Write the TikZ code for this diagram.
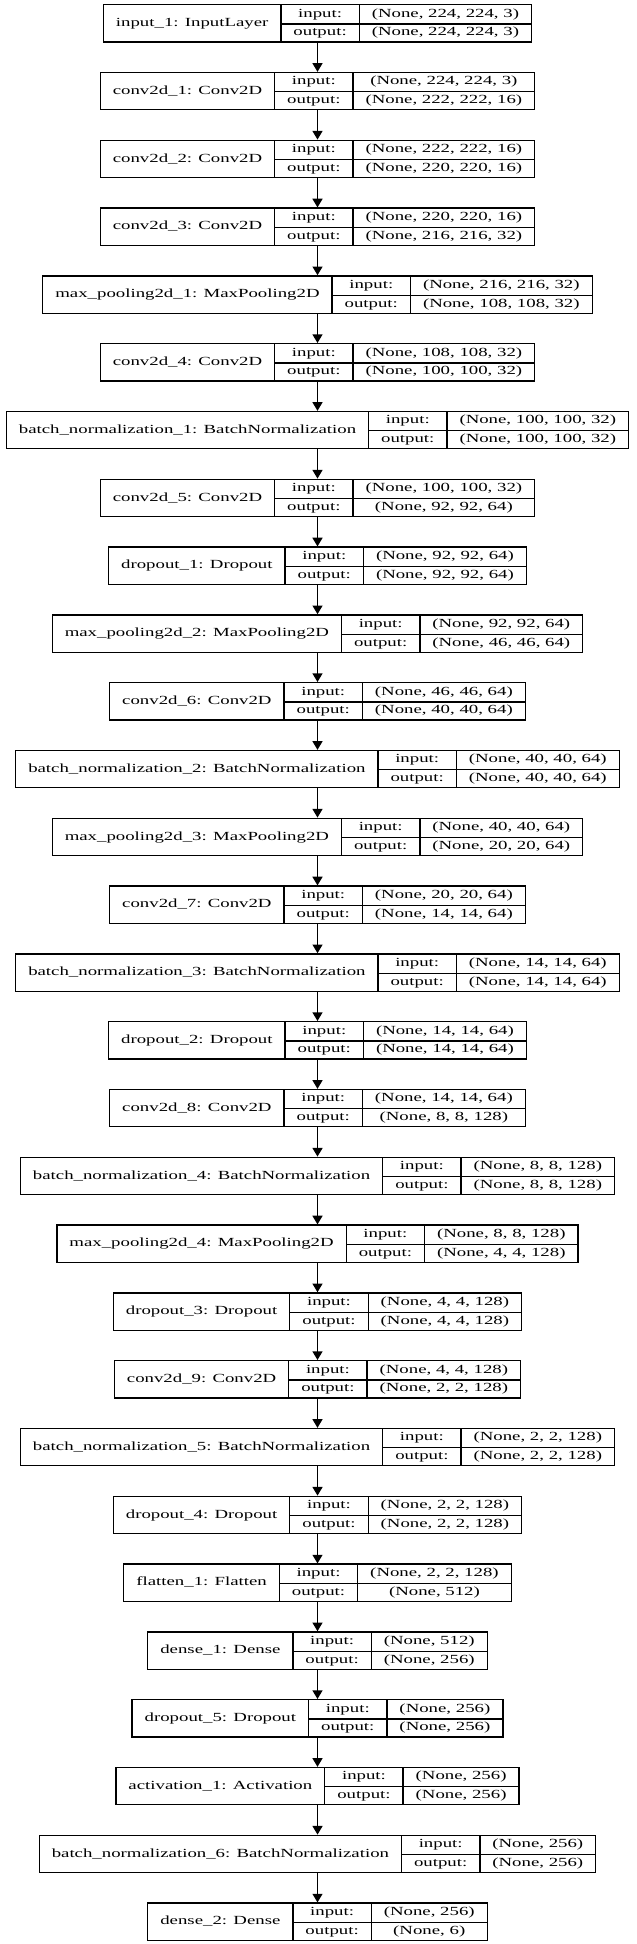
\documentclass[tikz,border=0pt]{standalone}
\usepackage{fontspec}
\setmainfont{Liberation Serif}
\usepackage{graphicx}
\usetikzlibrary{arrows.meta}

\setlength{\tabcolsep}{9.4pt}
\setlength{\arrayrulewidth}{1pt}
\renewcommand{\arraystretch}{0}
\newcommand{\sq}[1]{\scalebox{1}[0.66]{#1}}
\newcommand{\rs}{\rule[-4.63pt]{0pt}{14pt}}
\newcommand{\layer}[3]{%
\begin{tabular}{c|c|c}
 & \rs\sq{input:} & \sq{#2}\\ \cline{2-3}
\raisebox{7pt}[0pt][0pt]{\sq{#1}} & \rs\sq{output:} & \sq{#3}
\end{tabular}}

\begin{document}
\begin{tikzpicture}[x=0.75pt,y=0.75pt,yscale=-1,xscale=1,
  rec/.style={draw, line width=1pt, inner sep=0pt, anchor=north, font=\fontsize{14.1pt}{16pt}\selectfont},
  link/.style={-{Triangle[length=6.5pt,width=7.5pt]}, line width=1pt}]
\useasboundingbox (0,0) rectangle (636,1944);

%=====Rétegek=======
\node [rec] (inp) at (317.5,4) {\layer{input\_1: InputLayer}{(None, 224, 224, 3)}{(None, 224, 224, 3)}};
\node [rec] (conv1) at (317.5,71.8) {\layer{conv2d\_1: Conv2D}{(None, 224, 224, 3)}{(None, 222, 222, 16)}};
\node [rec] (conv2) at (317.5,139.6) {\layer{conv2d\_2: Conv2D}{(None, 222, 222, 16)}{(None, 220, 220, 16)}};
\node [rec] (conv3) at (317.5,207.4) {\layer{conv2d\_3: Conv2D}{(None, 220, 220, 16)}{(None, 216, 216, 32)}};
\node [rec] (pool1) at (317.5,275.2) {\layer{max\_pooling2d\_1: MaxPooling2D}{(None, 216, 216, 32)}{(None, 108, 108, 32)}};
\node [rec] (conv4) at (317.5,343) {\layer{conv2d\_4: Conv2D}{(None, 108, 108, 32)}{(None, 100, 100, 32)}};
\node [rec] (bn1) at (317.5,410.8) {\layer{batch\_normalization\_1: BatchNormalization}{(None, 100, 100, 32)}{(None, 100, 100, 32)}};
\node [rec] (conv5) at (317.5,478.6) {\layer{conv2d\_5: Conv2D}{(None, 100, 100, 32)}{(None, 92, 92, 64)}};
\node [rec] (drop1) at (317.5,546.4) {\layer{dropout\_1: Dropout}{(None, 92, 92, 64)}{(None, 92, 92, 64)}};
\node [rec] (pool2) at (317.5,614.2) {\layer{max\_pooling2d\_2: MaxPooling2D}{(None, 92, 92, 64)}{(None, 46, 46, 64)}};
\node [rec] (conv6) at (317.5,682) {\layer{conv2d\_6: Conv2D}{(None, 46, 46, 64)}{(None, 40, 40, 64)}};
\node [rec] (bn2) at (317.5,749.8) {\layer{batch\_normalization\_2: BatchNormalization}{(None, 40, 40, 64)}{(None, 40, 40, 64)}};
\node [rec] (pool3) at (317.5,817.6) {\layer{max\_pooling2d\_3: MaxPooling2D}{(None, 40, 40, 64)}{(None, 20, 20, 64)}};
\node [rec] (conv7) at (317.5,885.4) {\layer{conv2d\_7: Conv2D}{(None, 20, 20, 64)}{(None, 14, 14, 64)}};
\node [rec] (bn3) at (317.5,953.2) {\layer{batch\_normalization\_3: BatchNormalization}{(None, 14, 14, 64)}{(None, 14, 14, 64)}};
\node [rec] (drop2) at (317.5,1021) {\layer{dropout\_2: Dropout}{(None, 14, 14, 64)}{(None, 14, 14, 64)}};
\node [rec] (conv8) at (317.5,1088.8) {\layer{conv2d\_8: Conv2D}{(None, 14, 14, 64)}{(None, 8, 8, 128)}};
\node [rec] (bn4) at (317.5,1156.6) {\layer{batch\_normalization\_4: BatchNormalization}{(None, 8, 8, 128)}{(None, 8, 8, 128)}};
\node [rec] (pool4) at (317.5,1224.4) {\layer{max\_pooling2d\_4: MaxPooling2D}{(None, 8, 8, 128)}{(None, 4, 4, 128)}};
\node [rec] (drop3) at (317.5,1292.2) {\layer{dropout\_3: Dropout}{(None, 4, 4, 128)}{(None, 4, 4, 128)}};
\node [rec] (conv9) at (317.5,1360) {\layer{conv2d\_9: Conv2D}{(None, 4, 4, 128)}{(None, 2, 2, 128)}};
\node [rec] (bn5) at (317.5,1427.8) {\layer{batch\_normalization\_5: BatchNormalization}{(None, 2, 2, 128)}{(None, 2, 2, 128)}};
\node [rec] (drop4) at (317.5,1495.6) {\layer{dropout\_4: Dropout}{(None, 2, 2, 128)}{(None, 2, 2, 128)}};
\node [rec] (flat) at (317.5,1563.4) {\layer{flatten\_1: Flatten}{(None, 2, 2, 128)}{(None, 512)}};
\node [rec] (dense1) at (317.5,1631.2) {\layer{dense\_1: Dense}{(None, 512)}{(None, 256)}};
\node [rec] (drop5) at (317.5,1699) {\layer{dropout\_5: Dropout}{(None, 256)}{(None, 256)}};
\node [rec] (act) at (317.5,1766.8) {\layer{activation\_1: Activation}{(None, 256)}{(None, 256)}};
\node [rec] (bn6) at (317.5,1834.6) {\layer{batch\_normalization\_6: BatchNormalization}{(None, 256)}{(None, 256)}};
\node [rec] (dense2) at (317.5,1902.4) {\layer{dense\_2: Dense}{(None, 256)}{(None, 6)}};

%======Nyilak=========
\draw [link] (inp.south) -- (conv1.north);
\draw [link] (conv1.south) -- (conv2.north);
\draw [link] (conv2.south) -- (conv3.north);
\draw [link] (conv3.south) -- (pool1.north);
\draw [link] (pool1.south) -- (conv4.north);
\draw [link] (conv4.south) -- (bn1.north);
\draw [link] (bn1.south) -- (conv5.north);
\draw [link] (conv5.south) -- (drop1.north);
\draw [link] (drop1.south) -- (pool2.north);
\draw [link] (pool2.south) -- (conv6.north);
\draw [link] (conv6.south) -- (bn2.north);
\draw [link] (bn2.south) -- (pool3.north);
\draw [link] (pool3.south) -- (conv7.north);
\draw [link] (conv7.south) -- (bn3.north);
\draw [link] (bn3.south) -- (drop2.north);
\draw [link] (drop2.south) -- (conv8.north);
\draw [link] (conv8.south) -- (bn4.north);
\draw [link] (bn4.south) -- (pool4.north);
\draw [link] (pool4.south) -- (drop3.north);
\draw [link] (drop3.south) -- (conv9.north);
\draw [link] (conv9.south) -- (bn5.north);
\draw [link] (bn5.south) -- (drop4.north);
\draw [link] (drop4.south) -- (flat.north);
\draw [link] (flat.south) -- (dense1.north);
\draw [link] (dense1.south) -- (drop5.north);
\draw [link] (drop5.south) -- (act.north);
\draw [link] (act.south) -- (bn6.north);
\draw [link] (bn6.south) -- (dense2.north);

\end{tikzpicture}
\end{document}
